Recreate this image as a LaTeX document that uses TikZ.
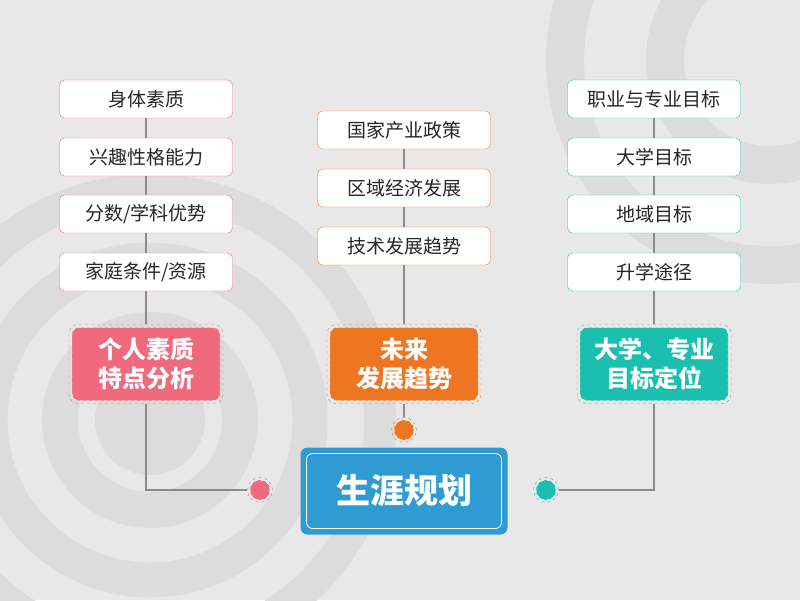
\documentclass[tikz,border=0pt]{standalone}
\usepackage{fontspec}
\newfontfamily\cjk{Noto Sans CJK SC}
\usetikzlibrary{positioning}
\definecolor{bgc}{HTML}{E8E8E9}
\definecolor{ringc}{HTML}{DCDCDD}
\definecolor{linec}{HTML}{8A8A8A}
\definecolor{pinkc}{HTML}{EE6A7C}
\definecolor{orangec}{HTML}{EE7623}
\definecolor{tealc}{HTML}{1BBFAF}
\definecolor{bluec}{HTML}{2E9BD3}

\begin{document}
\begin{tikzpicture}[x=1pt,y=-1pt]

\tikzset{itembox/.style={font=\cjk\fontsize{19}{22}\selectfont,fill=white,draw=#1,rounded corners=5pt,minimum width=173pt,minimum height=38pt,inner sep=0pt,text=black!85},
catbox/.style={font=\cjk\bfseries\fontsize{24}{29}\selectfont,fill=#1,draw=white,dashed,rounded corners=7pt,minimum width=148pt,minimum height=73pt,align=center,text=white,inner sep=0pt},
catring/.style={draw=#1,dashed,rounded corners=9pt,minimum width=154pt,minimum height=79pt,inner sep=0pt},
dotnode/.style={circle,fill=#1,draw=white,dashed,minimum size=20pt,inner sep=0pt},
dotring/.style={circle,draw=#1,dashed,minimum size=25pt,inner sep=0pt},
link/.style={draw=linec,line width=1.2pt}}

% Background and rings
\fill[bgc] (0,0) rectangle (800,600);
\begin{scope}
\clip (0,0) rectangle (800,600);
\fill[ringc] (150,420) circle (55pt);
\foreach \r/\w in {90/36, 160/35, 230/32} \draw[ringc,line width=\w pt] (150,420) circle (\r pt);
\foreach \r in {105, 205} \draw[ringc,line width=38pt] (770,60) circle (\r pt);
\end{scope}
\useasboundingbox (0,0) rectangle (800,600);

% Left column
\node[itembox=pinkc] (l1) at (146,99) {身体素质};
\node[itembox=pinkc] (l2) at (146,157) {兴趣性格能力};
\node[itembox=pinkc] (l3) at (146,214) {分数/学科优势};
\node[itembox=pinkc] (l4) at (146,272) {家庭条件/资源};
\node[catring=pinkc] (lcr) at (146,364) {};
\node[catbox=pinkc] (lc) at (146,364) {个人素质\\特点分析};

% Middle column
\node[itembox=orangec] (m1) at (404,130) {国家产业政策};
\node[itembox=orangec] (m2) at (404,188) {区域经济发展};
\node[itembox=orangec] (m3) at (404,246) {技术发展趋势};
\node[catring=orangec] (mcr) at (404,364) {};
\node[catbox=orangec] (mc) at (404,364) {未来\\发展趋势};

% Right column
\node[itembox=tealc] (r1) at (654,99) {职业与专业目标};
\node[itembox=tealc] (r2) at (654,157) {大学目标};
\node[itembox=tealc] (r3) at (654,214) {地域目标};
\node[itembox=tealc] (r4) at (654,272) {升学途径};
\node[catring=tealc] (rcr) at (654,364) {};
\node[catbox=tealc] (rc) at (654,364) {大学、专业\\目标定位};

% Dots
\node[dotring=pinkc] (ldr) at (260,490) {};
\node[dotnode=pinkc] (ld) at (260,490) {};
\node[dotring=orangec] (mdr) at (404,430) {};
\node[dotnode=orangec] (md) at (404,430) {};
\node[dotring=tealc] (rdr) at (546,490) {};
\node[dotnode=tealc] (rd) at (546,490) {};

% Centre
\node[fill=bluec,rounded corners=7pt,minimum width=207pt,minimum height=87pt] (core) at (404,491) {};
\node[draw=white,line width=0.8pt,rounded corners=6pt,minimum width=195pt,minimum height=75pt,font=\cjk\bfseries\fontsize{34}{40}\selectfont,text=white] (corein) at (404,491) {生涯规划};

% Links
\path[link] (l1) -- (l2) (l2) -- (l3) (l3) -- (l4) (l4) -- (lcr);
\path[link] (m1) -- (m2) (m2) -- (m3) (m3) -- (mcr) (mcr) -- (mdr);
\path[link] (r1) -- (r2) (r2) -- (r3) (r3) -- (r4) (r4) -- (rcr);
\path[link] (lcr) |- (ldr);
\path[link] (rcr) |- (rdr);

\end{tikzpicture}
\end{document}
